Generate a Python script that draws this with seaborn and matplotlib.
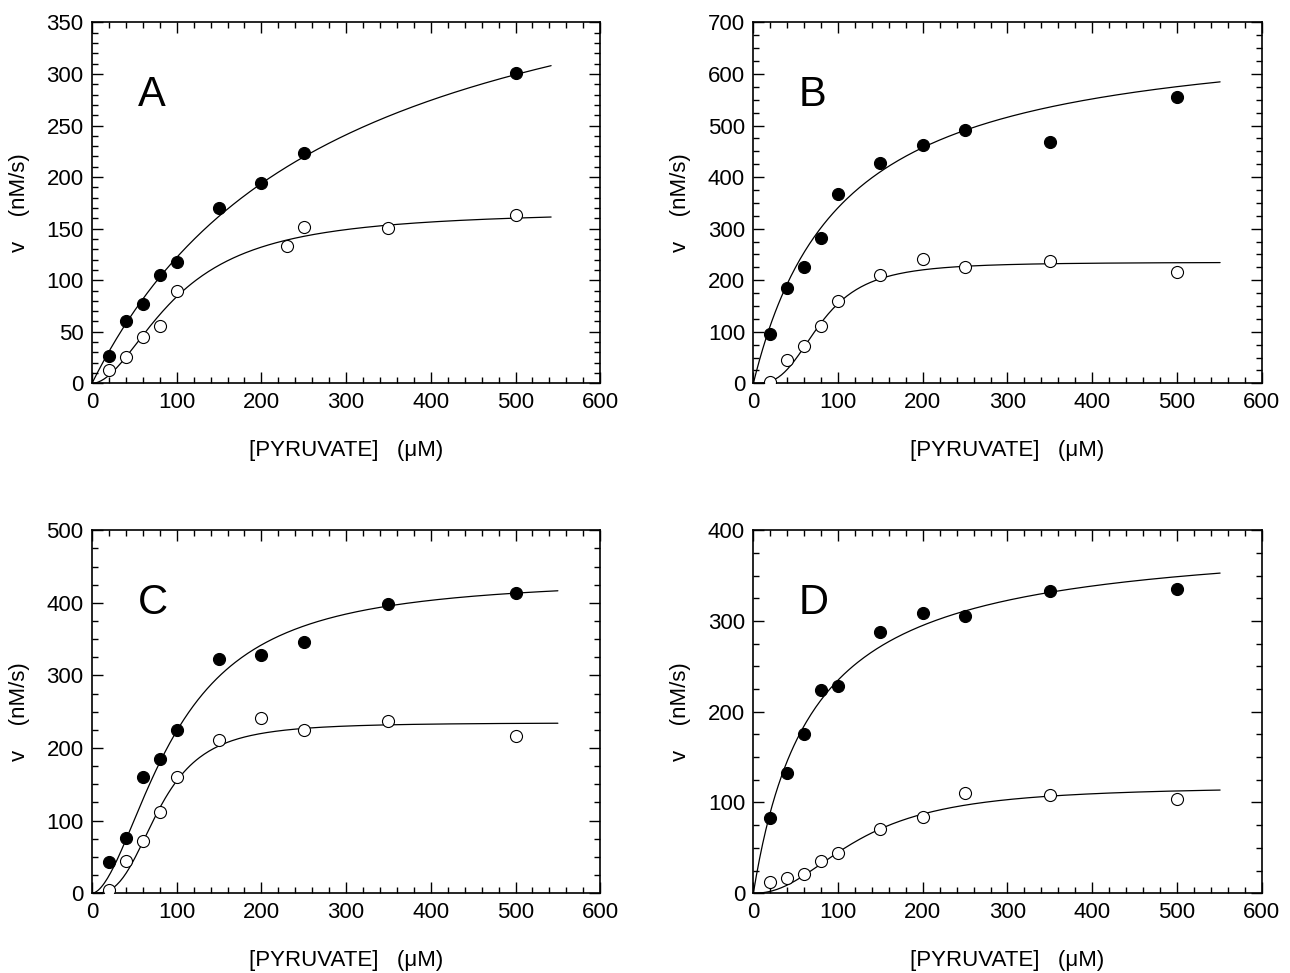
import numpy as np
import pandas as pd
import matplotlib
matplotlib.use("Agg")
import matplotlib.pyplot as plt
from matplotlib.ticker import MultipleLocator
import seaborn as sns

# data points
panels = ["A", "B", "C", "D"]
x_a_filled = [20, 40, 60, 80, 100, 150, 200, 250, 500]
y_a_filled = [27, 60, 77, 105, 118, 170, 194, 223, 301]
x_a_open = [20, 40, 60, 80, 100, 230, 250, 350, 500]
y_a_open = [13, 26, 45, 56, 90, 133, 152, 151, 163]

x_conc = [20, 40, 60, 80, 100, 150, 200, 250, 350, 500]
y_b_filled = [95, 185, 225, 282, 368, 428, 462, 491, 468, 555]
y_b_open = [3, 45, 73, 112, 160, 211, 242, 225, 237, 216]
y_c_filled = [43, 76, 160, 185, 225, 323, 328, 346, 398, 414]
y_c_open = [4, 44, 72, 112, 160, 211, 242, 225, 237, 216]
y_d_filled = [83, 133, 175, 224, 228, 288, 309, 306, 333, 335]
y_d_open = [12, 17, 21, 36, 44, 71, 84, 110, 108, 104]

# fitted Hill curves (Vmax, K, n), estimated from the drawn lines
fit_filled = {"A": (470, 285, 1.0), "B": (695, 104, 1.0),
              "C": (435, 97, 1.8), "D": (397, 69, 1.0)}
fit_open = {"A": (168, 100, 1.88), "B": (235, 80, 2.94),
            "C": (235, 80, 2.94), "D": (118, 124.5, 2.2)}
curve_end = {"A": 542, "B": 551, "C": 550, "D": 551}

y_max = {"A": 350, "B": 700, "C": 500, "D": 400}
y_major = {"A": 50, "B": 100, "C": 100, "D": 100}
y_minor = {"A": 10, "B": 25, "C": 25, "D": 25}

points = {
    "A": (x_a_filled, y_a_filled, x_a_open, y_a_open),
    "B": (x_conc, y_b_filled, x_conc, y_b_open),
    "C": (x_conc, y_c_filled, x_conc, y_c_open),
    "D": (x_conc, y_d_filled, x_conc, y_d_open),
}


def hill(x, vmax, k, n):
    return vmax * x**n / (k**n + x**n)


sns.set_style("ticks")
plt.rcParams["font.family"] = ["Liberation Sans", "DejaVu Sans"]
for key in ["text.color", "axes.labelcolor", "xtick.color", "ytick.color",
            "axes.edgecolor"]:
    plt.rcParams[key] = "black"

fig = plt.figure(figsize=(12.9, 9.73), dpi=100)
boxes = {
    "A": [0.0713, 0.606, 0.394, 0.371],
    "B": [0.584, 0.606, 0.394, 0.371],
    "C": [0.0713, 0.082, 0.394, 0.373],
    "D": [0.584, 0.082, 0.394, 0.373],
}

for p in panels:
    ax = fig.add_axes(boxes[p])
    xf, yf, xo, yo = points[p]
    xs = np.linspace(0, curve_end[p], 300)
    curves = pd.DataFrame({
        "x": np.concatenate([xs, xs]),
        "v": np.concatenate([hill(xs, *fit_filled[p]), hill(xs, *fit_open[p])]),
        "set": ["filled"] * len(xs) + ["open"] * len(xs),
    })
    sns.lineplot(data=curves, x="x", y="v", units="set", estimator=None,
                 color="black", linewidth=0.9, ax=ax, legend=False)
    sns.scatterplot(x=xf, y=yf, color="black", s=75, edgecolor="black",
                    linewidth=0.8, ax=ax, zorder=3)
    sns.scatterplot(x=xo, y=yo, color="white", s=75, edgecolor="black",
                    linewidth=0.8, ax=ax, zorder=3)

    ax.set_xlim(0, 600)
    ax.set_ylim(0, y_max[p])
    ax.xaxis.set_major_locator(MultipleLocator(100))
    ax.xaxis.set_minor_locator(MultipleLocator(20))
    ax.yaxis.set_major_locator(MultipleLocator(y_major[p]))
    ax.yaxis.set_minor_locator(MultipleLocator(y_minor[p]))
    ax.tick_params(which="both", direction="in", top=True, right=True,
                   width=1.0, labelsize=16)
    ax.tick_params(which="major", length=8, pad=6)
    ax.tick_params(which="minor", length=4)
    for s in ax.spines.values():
        s.set_linewidth(1.2)
    ax.set_xlabel("[PYRUVATE]   (\u03bcM)", fontsize=16, labelpad=20)
    ax.set_ylabel("v    (nM/s)", fontsize=16, labelpad=12)
    ax.text(0.09, 0.80, p, transform=ax.transAxes, fontsize=30,
            va="center", ha="left")

fig.savefig("out.png", dpi=100)
